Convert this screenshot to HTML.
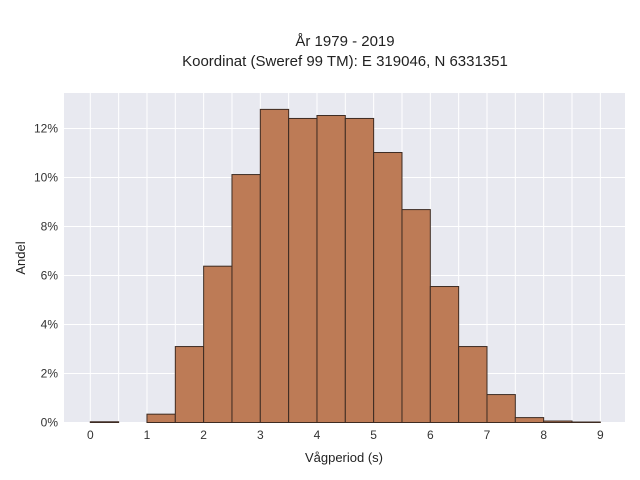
<!DOCTYPE html>
<html><head><meta charset="utf-8"><style>
body{margin:0;background:#fff;}
svg{display:block;font-family:"Liberation Sans",sans-serif;}
</style></head><body>
<svg id="chart" width="640" height="480">
<text x="345" y="46" text-anchor="middle" font-size="15" fill="#222">År 1979 - 2019</text>
<text x="345" y="66" text-anchor="middle" font-size="15" fill="#222">Koordinat (Sweref 99 TM): E 319046, N 6331351</text>
<rect x="64" y="93" width="561" height="330" fill="#e8e9f0"/>
<g id="grid"></g><g id="bars"></g><g id="ticks"></g>
<text x="344" y="462" text-anchor="middle" font-size="13" fill="#222">Vågperiod (s)</text>
<text x="25" y="258" text-anchor="middle" font-size="13" fill="#222" transform="rotate(-90 25 258)">Andel</text>
</svg>
<script>
const binStarts=[0,0.5,1,1.5,2,2.5,3,3.5,4,4.5,5,5.5,6,6.5,7,7.5,8,8.5];
const shares=[0.03,0,0.34,3.10,6.38,10.12,12.78,12.41,12.53,12.41,11.02,8.69,5.55,3.10,1.14,0.20,0.06,0.02];
const binWidth=0.5;
const xTicks=[0,1,2,3,4,5,6,7,8,9];
const yTicks=[0,2,4,6,8,10,12];
const NS="http://www.w3.org/2000/svg";
const X0=90.3,XU=56.67,Y0=422.5,YU=24.5;
const xs=v=>X0+v*XU, ys=v=>Y0-v*YU;
const grid=document.getElementById('grid'),bars=document.getElementById('bars'),ticks=document.getElementById('ticks');
function mk(tag,attrs,parent){const e=document.createElementNS(NS,tag);for(const k in attrs)e.setAttribute(k,attrs[k]);parent.appendChild(e);return e;}
for(let v=0;v<=9;v+=0.5){
 const l=mk('line',{x1:xs(v),x2:xs(v),y1:93,y2:423,stroke:'#fff','stroke-width':1},grid);
 
 
}
yTicks.forEach(t=>{
 const l=mk('line',{x1:64,x2:625,y1:ys(t),y2:ys(t),stroke:'#fff','stroke-width':1},grid);
 
 
 const tx=mk('text',{x:58,y:ys(t)+4,'text-anchor':'end','font-size':12,fill:'#333'},ticks);
 tx.textContent=t+'%';
 
 
});
xTicks.forEach(t=>{
 const tx=mk('text',{x:xs(t),y:439,'text-anchor':'middle','font-size':12,fill:'#333'},ticks);
 tx.textContent=t;
 
 
});
binStarts.forEach((b,i)=>{
 const v=shares[i];
 if(v<=0)return;
 const r=mk('rect',{x:xs(b),y:ys(v),width:xs(b+binWidth)-xs(b),height:Y0-ys(v),fill:'#bd7b56',stroke:'#3d2b22','stroke-width':1},bars);
 
 
});
</script>
</body></html>
